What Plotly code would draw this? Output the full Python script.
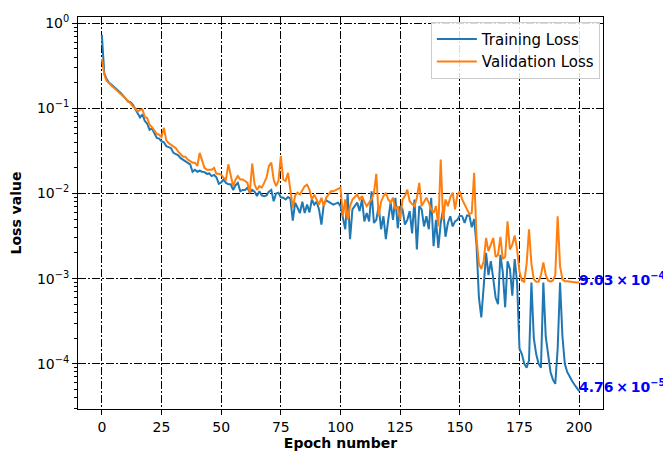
import math
import plotly.graph_objects as go

epochs = list(range(0, 201))

training_loss = [
    0.73, 0.26, 0.22, 0.20, 0.19, 0.18, 0.17, 0.16, 0.15, 0.14,
    0.13, 0.12, 0.118, 0.11, 0.098, 0.089, 0.078, 0.085, 0.071, 0.066,
    0.056, 0.058, 0.052, 0.045, 0.044, 0.041, 0.040, 0.036, 0.035, 0.034,
    0.030, 0.029, 0.028, 0.026, 0.025, 0.024, 0.023, 0.022, 0.018, 0.019,
    0.018, 0.0185, 0.018, 0.0178, 0.017, 0.0172, 0.016, 0.0165, 0.0155, 0.013,
    0.0135, 0.0146, 0.0133, 0.0128, 0.0128, 0.011, 0.0125, 0.0133, 0.0106, 0.011,
    0.011, 0.0117, 0.0102, 0.011, 0.0105, 0.0093, 0.0106, 0.0095, 0.0093, 0.0095,
    0.0105, 0.011, 0.0081, 0.0100, 0.0102, 0.0090, 0.0089, 0.0085, 0.0091, 0.0087,
    0.0048, 0.0078, 0.0068, 0.0059, 0.0080, 0.0059, 0.0074, 0.0060, 0.0085, 0.0074,
    0.0080, 0.0065, 0.0043, 0.0075, 0.0083, 0.0080, 0.0076, 0.0074, 0.0076, 0.0078,
    0.0071, 0.0054, 0.0038, 0.0100, 0.0029, 0.0065, 0.0072, 0.0078, 0.0062, 0.0085,
    0.0047, 0.0059, 0.0047, 0.0106, 0.0045, 0.0049, 0.0071, 0.0038, 0.0054, 0.0029,
    0.0049, 0.0078, 0.0049, 0.0089, 0.0039, 0.0071, 0.0065, 0.0043, 0.0049, 0.0062,
    0.0034, 0.0085, 0.0022, 0.0071, 0.0065, 0.0041, 0.0054, 0.0038, 0.0089, 0.0024,
    0.0049, 0.0023, 0.0045, 0.0065, 0.0031, 0.0045, 0.0054, 0.0041, 0.0047, 0.0049,
    0.0055, 0.0054, 0.0045, 0.0055, 0.0055, 0.0040, 0.0050, 0.0025, 0.0006, 0.00035,
    0.0008, 0.0020, 0.0011, 0.0016, 0.0010, 0.0006, 0.0005, 0.0019, 0.0012, 0.00046,
    0.0016, 0.0013, 0.00063, 0.0017, 0.0009, 0.00015, 0.00013, 0.0001, 0.00009, 0.00011,
    0.0009, 0.0002, 0.00013, 0.0001, 0.00009, 0.0009, 0.00021, 0.00012, 0.00008, 0.000065,
    0.000058, 0.00015, 0.0009, 0.00021, 0.0001, 0.00008, 0.00007, 0.000063, 0.000057, 0.000052,
    0.0000476,
]

validation_loss = [
    0.38, 0.25, 0.21, 0.195, 0.185, 0.175, 0.165, 0.155, 0.147, 0.138,
    0.13, 0.12, 0.115, 0.105, 0.10, 0.092, 0.096, 0.097, 0.079, 0.077,
    0.064, 0.060, 0.055, 0.050, 0.049, 0.046, 0.059, 0.042, 0.039, 0.037,
    0.035, 0.034, 0.031, 0.029, 0.027, 0.027, 0.025, 0.024, 0.023, 0.023,
    0.021, 0.030, 0.024, 0.020, 0.019, 0.019, 0.019, 0.020, 0.017, 0.017,
    0.0167, 0.0153, 0.0146, 0.022, 0.016, 0.0122, 0.0145, 0.016, 0.0146, 0.0146,
    0.014, 0.0133, 0.0102, 0.0225, 0.0128, 0.011, 0.0122, 0.0117, 0.0133, 0.0153,
    0.021, 0.023, 0.0146, 0.0122, 0.014, 0.0274, 0.0146, 0.014, 0.0175, 0.0105,
    0.0068, 0.0095, 0.0102, 0.0097, 0.011, 0.0122, 0.0127, 0.011, 0.0085, 0.0097,
    0.0085, 0.0074, 0.0089, 0.0071, 0.0089, 0.0097, 0.0106, 0.0106, 0.011, 0.0113,
    0.0117, 0.0054, 0.0085, 0.0049, 0.0071, 0.0085, 0.0092, 0.0097, 0.0085, 0.0093,
    0.0080, 0.0071, 0.0078, 0.0085, 0.0100, 0.0170, 0.0054, 0.0080, 0.0093, 0.0102,
    0.0085, 0.0078, 0.0089, 0.0065, 0.0071, 0.0049, 0.0085, 0.0093, 0.0111, 0.0081,
    0.0075, 0.0071, 0.0089, 0.0133, 0.0071, 0.0080, 0.0089, 0.0078, 0.0065, 0.0059,
    0.0071, 0.0041, 0.025, 0.0049, 0.0085, 0.0071, 0.0090, 0.0102, 0.0065, 0.0097,
    0.0106, 0.0085, 0.0074, 0.0065, 0.0057, 0.0059, 0.0175, 0.0030, 0.0015, 0.0013,
    0.0016, 0.0030, 0.0021, 0.0025, 0.0030, 0.0018, 0.0019, 0.0031, 0.0017, 0.0018,
    0.0047, 0.0022, 0.0025, 0.0032, 0.0022, 0.0012, 0.00095, 0.00092, 0.0015, 0.0038,
    0.0015, 0.00098, 0.00092, 0.00092, 0.0011, 0.00155, 0.0011, 0.00095, 0.00092, 0.00095,
    0.0011, 0.0054, 0.0014, 0.00098, 0.00093, 0.00093, 0.00092, 0.00091, 0.00091, 0.00090,
    0.000903,
]

series_names = ["Training Loss", "Validation Loss"]
x_tick_vals = [0, 25, 50, 75, 100, 125, 150, 175, 200]
y_tick_vals = [1, 0.1, 0.01, 0.001, 0.0001]
y_tick_text = ["10<sup>0</sup>", "10<sup>−1</sup>", "10<sup>−2</sup>", "10<sup>−3</sup>", "10<sup>−4</sup>"]
final_labels = ["4.76\u2009×\u200910<sup>−5</sup>", "9.03\u2009×\u200910<sup>−4</sup>"]

FONT = "DejaVu Sans"
BLUE = "#1f77b4"
ORANGE = "#ff7f0e"

fig = go.Figure()
fig.add_trace(go.Scatter(x=epochs, y=training_loss, mode="lines", name=series_names[0],
                         line=dict(color=BLUE, width=2)))
fig.add_trace(go.Scatter(x=epochs, y=validation_loss, mode="lines", name=series_names[1],
                         line=dict(color=ORANGE, width=2)))

# matplotlib-like autoscale (5% margins)
allv = training_loss + validation_loss
lo, hi = math.log10(min(allv)), math.log10(max(allv))
pad = 0.05 * (hi - lo)
xlo, xhi = min(epochs), max(epochs)
xpad = 0.05 * (xhi - xlo)

minor_vals = [k * 10 ** d for d in range(-5, 1) for k in range(2, 10)]

for val, txt, ys in zip([training_loss[-1], validation_loss[-1]], final_labels, [5, 3]):
    fig.add_annotation(x=epochs[-1], y=math.log10(val), text="<b>" + txt + "</b>",
                       showarrow=False, xanchor="left", yanchor="middle", xshift=-2, yshift=ys,
                       font=dict(family=FONT, size=14, color="#0000ff"))

grid = dict(showgrid=True, gridcolor="#000000", gridwidth=1, griddash="8px,2px,2px,2px")

# the page body adds an 8px offset; the figure is sized to fill the 671x452 window
fig.update_layout(
    width=663, height=444,
    margin=dict(l=70, r=68, t=9, b=43),
    paper_bgcolor="white", plot_bgcolor="white",
    font=dict(family=FONT, size=14, color="black"),
    legend=dict(x=0.994, y=0.988, xanchor="right", yanchor="top",
                bgcolor="rgba(255,255,255,0.85)", bordercolor="#cccccc", borderwidth=1,
                font=dict(family=FONT, size=15), itemwidth=40,
                tracegroupgap=0),
    xaxis=dict(range=[xlo - xpad, xhi + xpad], tickvals=x_tick_vals, ticks="outside",
               ticklen=5, tickwidth=1, tickcolor="black", showline=True, mirror=True,
               linecolor="black", linewidth=1, zeroline=False,
               title=dict(text="<b>Epoch number</b>", font=dict(size=14), standoff=3),
               automargin=False, **grid),
    yaxis=dict(type="log", range=[lo - pad, hi + pad], tickvals=y_tick_vals, ticktext=y_tick_text,
               ticks="outside", ticklen=5, tickwidth=1, tickcolor="black", showline=True,
               mirror=True, linecolor="black", linewidth=1, zeroline=False,
               minor=dict(tickvals=minor_vals, ticks="outside", ticklen=3, tickcolor="black",
                          showgrid=False),
               title=dict(text="<b>Loss value</b>", font=dict(size=14), standoff=12),
               automargin=False, **grid),
)

fig.write_html("out.html")
